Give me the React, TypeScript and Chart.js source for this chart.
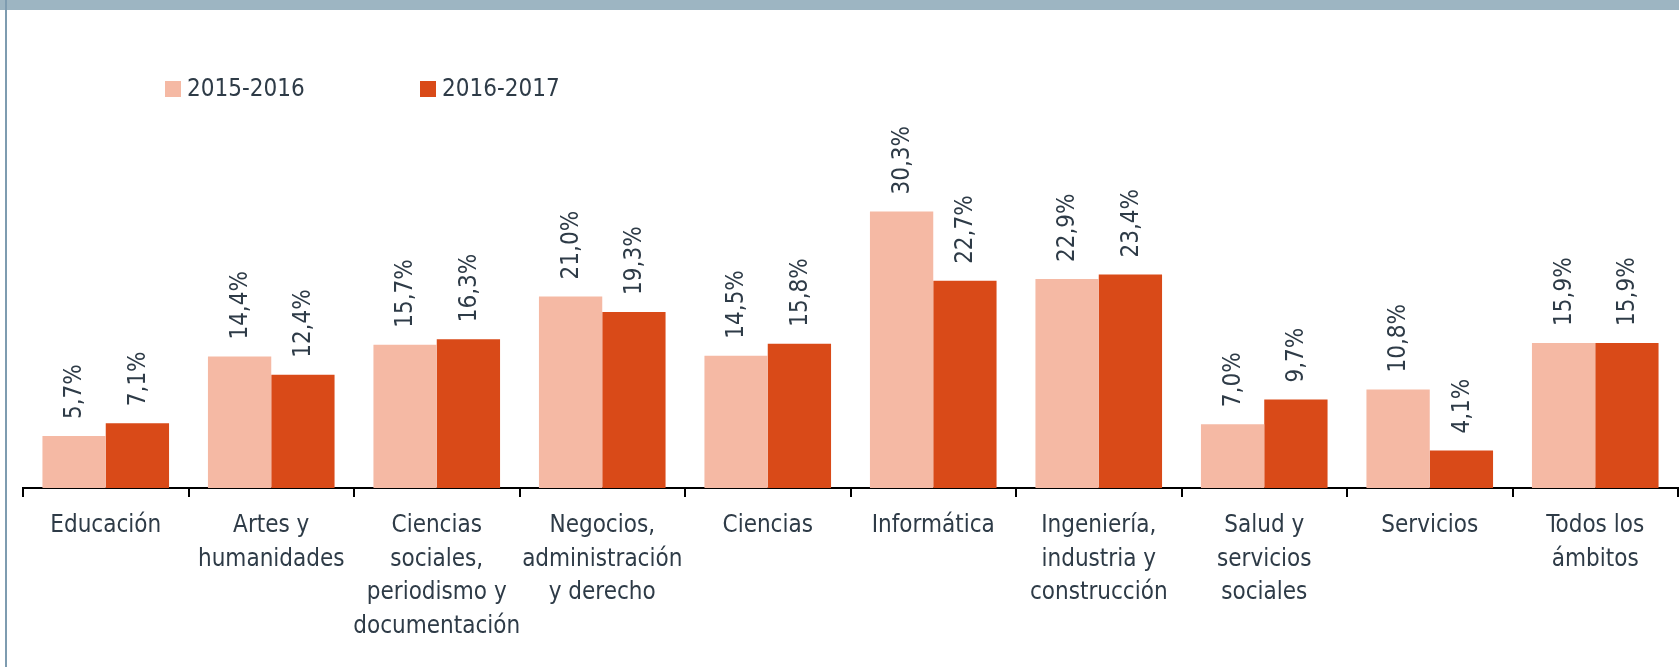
import React, { useEffect, useRef } from "react";
import { Chart, registerables } from "chart.js";

Chart.register(...registerables);

const categories: (string | string[])[] = [
  "Educación",
  ["Artes y", "humanidades"],
  ["Ciencias", "sociales,", "periodismo y", "documentación"],
  ["Negocios,", "administración", "y derecho"],
  "Ciencias",
  "Informática",
  ["Ingeniería,", "industria y", "construcción"],
  ["Salud y", "servicios", "sociales"],
  "Servicios",
  ["Todos los", "ámbitos"],
];

const seriesNames = ["2015-2016", "2016-2017"];
const values2015: number[] = [5.7, 14.4, 15.7, 21.0, 14.5, 30.3, 22.9, 7.0, 10.8, 15.9];
const values2016: number[] = [7.1, 12.4, 16.3, 19.3, 15.8, 22.7, 23.4, 9.7, 4.1, 15.9];

const COLORS = ["#F5B9A4", "#D94A18"];
const TEXT = "#2E3B47";
const FONT = "'DejaVu Sans Condensed', 'Liberation Sans Narrow', sans-serif";

const fmt = (v: number) => v.toFixed(1).replace(".", ",") + "%";

const labelPlugin = {
  id: "barLabels",
  afterDatasetsDraw(chart: any) {
    const ctx = chart.ctx;
    ctx.save();
    ctx.fillStyle = TEXT;
    ctx.font = `24px ${FONT}`;
    ctx.textAlign = "left";
    ctx.textBaseline = "middle";
    chart.data.datasets.forEach((ds: any, i: number) => {
      const meta = chart.getDatasetMeta(i);
      meta.data.forEach((bar: any, j: number) => {
        ctx.save();
        ctx.translate(bar.x + 1, bar.y - 17);
        ctx.rotate(-Math.PI / 2);
        ctx.fillText(fmt(ds.data[j]), 0, 0);
        ctx.restore();
      });
    });
    ctx.restore();
  },
};

export default function App() {
  const canvasRef = useRef<HTMLCanvasElement | null>(null);

  useEffect(() => {
    document.body.style.margin = "0";
    document.body.style.overflow = "hidden";
    const canvas = canvasRef.current;
    if (!canvas) return;
    const chart = new Chart(canvas, {
      type: "bar",
      data: {
        labels: categories,
        datasets: [
          {
            label: seriesNames[0],
            data: values2015,
            backgroundColor: COLORS[0],
            borderWidth: 0,
            categoryPercentage: 0.765,
            barPercentage: 1.0,
          },
          {
            label: seriesNames[1],
            data: values2016,
            backgroundColor: COLORS[1],
            borderWidth: 0,
            categoryPercentage: 0.765,
            barPercentage: 1.0,
          },
        ],
      },
      options: {
        responsive: false,
        animation: false,
        devicePixelRatio: 1,
        layout: { padding: { left: 23, right: 1, top: 123, bottom: 0 } },
        plugins: {
          legend: { display: false },
          tooltip: { enabled: false },
        },
        scales: {
          x: {
            offset: true,
            grid: {
              display: true,
              offset: true,
              drawOnChartArea: false,
              drawTicks: true,
              tickLength: 9,
              color: "#000000",
              lineWidth: 2,
            },
            border: { display: true, color: "#000000", width: 2 },
            ticks: {
              color: TEXT,
              font: { family: FONT, size: 24, lineHeight: 1.4 },
              padding: 12,
              maxRotation: 0,
              minRotation: 0,
              autoSkip: false,
            },
            afterFit: (scale: any) => {
              scale.height = 179;
            },
          },
          y: {
            display: false,
            min: 0,
            max: 40,
            beginAtZero: true,
          },
        },
      },
      plugins: [labelPlugin],
    });
    return () => chart.destroy();
  }, []);

  const legendItem = (name: string, color: string, left: number) => (
    <div
      key={name}
      style={{
        position: "absolute",
        left,
        top: 72,
        display: "flex",
        alignItems: "center",
        fontFamily: FONT,
        fontSize: 24,
        color: TEXT,
        lineHeight: "32px",
        whiteSpace: "nowrap",
      }}
    >
      <span
        style={{
          display: "inline-block",
          width: 16,
          height: 16,
          background: color,
          marginRight: 6,
          marginTop: 2,
        }}
      />
      <span>{name}</span>
    </div>
  );

  return (
    <div
      style={{
        position: "absolute",
        left: 0,
        top: 0,
        width: 1679,
        height: 667,
        background: "#ffffff",
        overflow: "hidden",
      }}
    >
      <canvas ref={canvasRef} width={1679} height={667} style={{ position: "absolute", left: 0, top: 0 }} />
      <div style={{ position: "absolute", left: 0, top: 0, width: 1679, height: 10, background: "#9DB5C2" }} />
      <div style={{ position: "absolute", left: 5, top: 0, width: 2, height: 667, background: "#7E9CB0" }} />
      {legendItem(seriesNames[0], COLORS[0], 165)}
      {legendItem(seriesNames[1], COLORS[1], 420)}
    </div>
  );
}
